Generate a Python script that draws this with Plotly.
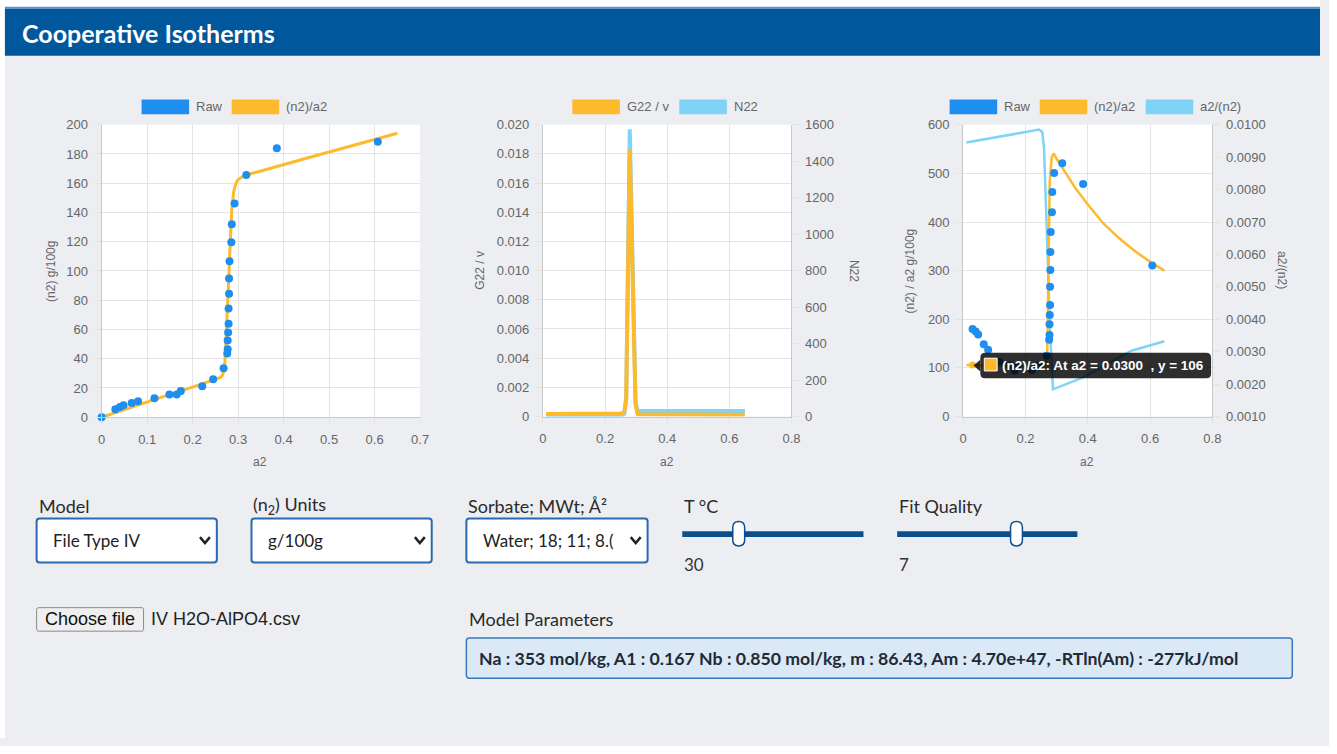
import plotly.graph_objects as go

# ---------------------------------------------------------------- data
# measured isotherm: water activity a2 and uptake <n2> (g/100g)
RAW_A2 = [0.0, 0.030, 0.040, 0.048, 0.066, 0.080, 0.116, 0.149, 0.165, 0.174,
          0.221, 0.245, 0.268, 0.276, 0.277, 0.277, 0.278, 0.279, 0.279, 0.280,
          0.280, 0.281, 0.285, 0.286, 0.292, 0.318, 0.385, 0.607]
RAW_N2 = [0.0, 5.4, 7.0, 8.1, 9.8, 11.0, 13.0, 15.6, 15.6, 17.9,
          21.2, 26.0, 33.5, 43.6, 46.5, 52.5, 58.0, 64.0, 74.4, 84.4,
          94.8, 106.6, 119.7, 132.0, 146.2, 165.6, 184.0, 188.4]

# fitted isotherm <n2>
FIT_A2 = [0.005, 0.05, 0.10, 0.15, 0.20, 0.25, 0.26, 0.265, 0.268, 0.271, 0.274,
          0.278, 0.282, 0.286, 0.290, 0.295, 0.30, 0.31, 0.32, 0.35, 0.40, 0.45,
          0.50, 0.55, 0.60, 0.65]
FIT_N2 = [0.5, 5.3, 10.5, 15.6, 20.6, 25.8, 27.0, 28.5, 31.0, 38.0, 55.0,
          85.0, 115.0, 142.0, 154.0, 160.0, 162.5, 164.6, 165.8, 168.5, 172.8, 177.1,
          181.4, 185.7, 190.0, 194.2]

# Kirkwood-Buff terms
KB_A2 = [0.01, 0.10, 0.20, 0.25, 0.262, 0.268, 0.2795, 0.29, 0.298, 0.305, 0.40, 0.50, 0.65]
G22_V = [0.00018, 0.00018, 0.00019, 0.0002, 0.0003, 0.0012, 0.0183, 0.0085, 0.0008,
         0.00015, 0.00013, 0.00012, 0.00012]
N22 = [2, 2, 3, 5, 15, 100, 1575, 730, 80, 30, 30, 30, 30]

# fitted <n2>/a2 and a2/<n2>
RATIO_A2 = [0.01, 0.03, 0.10, 0.20, 0.25, 0.265, 0.270, 0.2757, 0.2778, 0.2842, 0.2905,
            0.30, 0.31, 0.33, 0.36, 0.40, 0.45, 0.50, 0.55, 0.60, 0.646]
N2_OVER_A2 = [106, 106, 105, 104, 103, 106, 133, 382, 483, 533, 541,
              530, 519, 500, 470, 436, 397, 367, 341, 318, 300]
INV_A2 = [0.01, 0.2435, 0.254, 0.2597, 0.2703, 0.2786, 0.2881, 0.3815, 0.5404, 0.646]
A2_OVER_N2 = [0.00945, 0.00985, 0.00978, 0.00923, 0.00621, 0.00369, 0.00184,
              0.00219, 0.00303, 0.00332]

# hovered point on the <n2>/a2 curve
HOVER_A2 = 0.0300
HOVER_Y = 106

# tick labels
G22_TICKS = [0, 0.002, 0.004, 0.006, 0.008, 0.010, 0.012, 0.014, 0.016, 0.018, 0.020]
G22_TICKTEXT = ["0", "0.002", "0.004", "0.006", "0.008", "0.010", "0.012", "0.014",
                "0.016", "0.018", "0.020"]
INV_TICKS = [0.001, 0.002, 0.003, 0.004, 0.005, 0.006, 0.007, 0.008, 0.009, 0.010]
INV_TICKTEXT = ["0.0010", "0.0020", "0.0030", "0.0040", "0.0050", "0.0060", "0.0070",
                "0.0080", "0.0090", "0.0100"]

PARAMS_TEXT = ("Na : 353 mol/kg, A1 : 0.167 Nb : 0.850 mol/kg, m : 86.43, "
               "Am : 4.70e+47, -RTln(Am) : -277kJ/mol")

# ---------------------------------------------------------------- geometry
# The plot div is pulled over the body's 8 px default margin so the figure
# covers the full window; all layout positions below are window pixels.
W, H = 1337, 754

BLUE = "#1f8ef1"
ORANGE = "#fdba2c"
LIGHT = "#7ed3f7"
PAGE = "#eceef2"
HEADER = "#01579b"
TRACK = "#0d4f8c"
CHART_FONT = "Liberation Sans, Arial, sans-serif"
UI_FONT = "Lato, sans-serif"


def X(v):
    return v / W


def Y(v):
    return 1 - v / H


def rrect_path(x0, y0, x1, y1, r):
    return (f"M {X(x0 + r)},{Y(y0)} L {X(x1 - r)},{Y(y0)} Q {X(x1)},{Y(y0)} {X(x1)},{Y(y0 + r)} "
            f"L {X(x1)},{Y(y1 - r)} Q {X(x1)},{Y(y1)} {X(x1 - r)},{Y(y1)} "
            f"L {X(x0 + r)},{Y(y1)} Q {X(x0)},{Y(y1)} {X(x0)},{Y(y1 - r)} "
            f"L {X(x0)},{Y(y0 + r)} Q {X(x0)},{Y(y0)} {X(x0 + r)},{Y(y0)} Z")


shapes = []
annotations = []


def rect(x0, y0, x1, y1, fill, line=None, lw=0, layer="below"):
    shapes.append(dict(type="rect", xref="paper", yref="paper",
                       x0=X(x0), x1=X(x1), y0=Y(y1), y1=Y(y0),
                       fillcolor=fill, line=dict(color=line or fill, width=lw), layer=layer))


def rrect(x0, y0, x1, y1, r, fill, line, lw, layer="below"):
    shapes.append(dict(type="path", xref="paper", yref="paper",
                       path=rrect_path(x0, y0, x1, y1, r),
                       fillcolor=fill, line=dict(color=line, width=lw), layer=layer))


def text(x, y, s, size, color="#333", family=UI_FONT, anchor="left", angle=0, bold=False):
    annotations.append(dict(xref="paper", yref="paper", x=X(x), y=Y(y),
                            text=f"<b>{s}</b>" if bold else s, showarrow=False,
                            xanchor=anchor, yanchor="middle", textangle=angle,
                            font=dict(family=family, size=size, color=color)))


# ---------------------------------------------------------------- page chrome
rect(0, 0, W, 8, "white")
rect(0, 0, 9, H, "white")
rect(9, 8, W, 10, "#5b93cc")
rect(9, 10, W, 58, HEADER)
text(24, 35, "Cooperative Isotherms", 25, "white", bold=True)

# ---------------------------------------------------------------- figure
fig = go.Figure()

fig.add_trace(go.Scatter(x=FIT_A2, y=FIT_N2, mode="lines", line=dict(color=ORANGE, width=3),
                         xaxis="x", yaxis="y"))
fig.add_trace(go.Scatter(x=RAW_A2, y=RAW_N2, mode="markers", cliponaxis=False,
                         marker=dict(color=BLUE, size=8), xaxis="x", yaxis="y"))

fig.add_trace(go.Scatter(x=KB_A2, y=N22, mode="lines", line=dict(color=LIGHT, width=4),
                         xaxis="x2", yaxis="y2"))
fig.add_trace(go.Scatter(x=KB_A2, y=G22_V, mode="lines", line=dict(color=ORANGE, width=4),
                         xaxis="x2", yaxis="y3"))

fig.add_trace(go.Scatter(x=INV_A2, y=A2_OVER_N2, mode="lines", line=dict(color=LIGHT, width=2.5),
                         xaxis="x3", yaxis="y4"))
fig.add_trace(go.Scatter(x=RATIO_A2, y=N2_OVER_A2, mode="lines", line=dict(color=ORANGE, width=2.5),
                         xaxis="x3", yaxis="y5"))
raw_pos = [(a, n) for a, n in zip(RAW_A2, RAW_N2) if a > 0]
fig.add_trace(go.Scatter(x=[a for a, _ in raw_pos], y=[n / a for a, n in raw_pos],
                         mode="markers", cliponaxis=False, marker=dict(color=BLUE, size=8),
                         xaxis="x3", yaxis="y5"))
fig.add_trace(go.Scatter(x=[HOVER_A2], y=[HOVER_Y], mode="markers",
                         marker=dict(color=ORANGE, size=7), xaxis="x3", yaxis="y5"))

GRID = "#e4e4e4"
AXLINE = "#c9c9c9"
tickfont = dict(family=CHART_FONT, size=13, color="#666")


def axis(**kw):
    base = dict(showgrid=True, gridcolor=GRID, gridwidth=1, zeroline=False, showline=True,
                linecolor=AXLINE, linewidth=1, ticks="outside", ticklen=7, tickcolor=GRID,
                tickfont=tickfont, fixedrange=True, ticklabelstandoff=3)
    base.update(kw)
    return base


c1x, c1y = [X(106.7), X(428.3)], [Y(426.7), Y(128.3)]
c2x, c2y = [X(552.3), X(803.3)], [Y(426.0), Y(128.3)]
c3x, c3y = [X(976.7), X(1228.3)], [Y(426.0), Y(128.3)]

fig.update_layout(
    autosize=True, margin=dict(l=0, r=0, t=0, b=0),
    paper_bgcolor=PAGE, plot_bgcolor="white", showlegend=False, hovermode=False,
    xaxis=axis(domain=c1x, range=[0, 0.7], dtick=0.1, anchor="y"),
    yaxis=axis(domain=c1y, range=[0, 200], dtick=20, anchor="x"),
    xaxis2=axis(domain=c2x, range=[0, 0.8], dtick=0.2, anchor="y2"),
    yaxis2=axis(domain=c2y, range=[0, 1600], dtick=200, anchor="x2", side="right",
                showgrid=False),
    yaxis3=axis(range=[0, 0.02], tickvals=G22_TICKS, ticktext=G22_TICKTEXT,
                anchor="x2", overlaying="y2", side="left"),
    xaxis3=axis(domain=c3x, range=[0, 0.8], dtick=0.2, anchor="y4"),
    yaxis4=axis(domain=c3y, range=[0.001, 0.010], tickvals=INV_TICKS, ticktext=INV_TICKTEXT,
                anchor="x3", side="right", showgrid=False),
    yaxis5=axis(range=[0, 600], dtick=100, anchor="x3", overlaying="y4", side="left"),
)

# ---------------------------------------------------------------- chart legends & titles
LEG = "#666"


def legend_item(x0, label, color):
    rect(x0, 102.5, x0 + 48, 117.5, color)
    text(x0 + 53, 110, label, 13, LEG, CHART_FONT)


legend_item(147, "Raw", BLUE)
legend_item(238, "(n2)/a2", ORANGE)
legend_item(582, "G22 / v", ORANGE)
legend_item(690, "N22", LIGHT)
legend_item(963, "Raw", BLUE)
legend_item(1054, "(n2)/a2", ORANGE)
legend_item(1161, "a2/(n2)", LIGHT)

text(56, 278, "(n2) g/100g", 12, LEG, CHART_FONT, "center", -90)
text(267, 472, "a2", 12, LEG, CHART_FONT, "center")
text(489, 277, "G22 / v", 12, LEG, CHART_FONT, "center", -90)
text(866, 277, "N22", 12, LEG, CHART_FONT, "center", 90)
text(678, 472, "a2", 12, LEG, CHART_FONT, "center")
text(923, 278, "(n2) / a2 g/100g", 12, LEG, CHART_FONT, "center", -90)
text(1298, 277, "a2/(n2)", 12, LEG, CHART_FONT, "center", 90)
text(1102, 472, "a2", 12, LEG, CHART_FONT, "center")

# tooltip on the third chart
shapes.append(dict(type="path", xref="paper", yref="paper", layer="above",
                   path=f"M {X(987)},{Y(374)} L {X(994)},{Y(368)} L {X(994)},{Y(380)} Z",
                   fillcolor="rgba(0,0,0,0.82)", line=dict(width=0)))
rrect(994, 361, 1227, 387, 5, "rgba(0,0,0,0.82)", "rgba(0,0,0,0)", 0, layer="above")
rect(998, 366.5, 1011, 379.5, ORANGE, "white", 1, layer="above")
text(1014, 374, f"(n2)/a2: At a2 = {HOVER_A2:.4f}  , y = {HOVER_Y}", 13.5, "white",
     CHART_FONT, bold=True)

# ---------------------------------------------------------------- form controls
CTRL_BORDER = "#2a69ad"


def select(x0, x1, label, value):
    text(x0, 517, label, 18, "#2b2b2b")
    rrect(x0, 530, x1, 575, 3, "white", CTRL_BORDER, 2)
    text(x0 + 15, 552.5, value, 17, "#222")
    cx = x1 - 12
    shapes.append(dict(type="path", xref="paper", yref="paper",
                       path=f"M {X(cx - 5)},{Y(549)} L {X(cx)},{Y(555)} L {X(cx + 5)},{Y(549)}",
                       line=dict(color="#222", width=2.5)))


select(41, 223, "Model", "File Type IV")
select(258, 440, "(n<sub>2</sub>) Units", "g/100g")
select(475, 658, "Sorbate; MWt; Å²", "Water; 18; 11; 8.(")


def slider(x0, x1, thumb, label, value):
    text(x0, 517, label, 18, "#2b2b2b")
    rect(x0, 543, x1, 549, TRACK)
    rrect(thumb - 6, 533, thumb + 6, 558, 6, "white", TRACK, 1.5)
    text(x0, 577, value, 17, "#333")


slider(693, 876, 750, "T °C", "30")
slider(910, 1092, 1030.5, "Fit Quality", "7")

rrect(41, 621, 149, 645, 2, "#efefef", "#8a8a8a", 1)
text(95, 633, "Choose file", 18, "#111", CHART_FONT, "center")
text(154, 633, "IV H2O-AlPO4.csv", 18, "#222", CHART_FONT)

text(476, 633, "Model Parameters", 18, "#2b2b2b")
rrect(475, 652, 1309, 693, 3, "#dbe8f6", "#3a78bd", 1.5)
text(486, 673, PARAMS_TEXT, 17.7, "#1f2a36", bold=True)

fig.update_layout(shapes=shapes, annotations=annotations)
# the div takes the whole window, overlapping the default body margin
fig.write_html("out.html", config={"displayModeBar": False},
               default_width=f"{W}px; margin:-8px",
               default_height=f"{H}px")
